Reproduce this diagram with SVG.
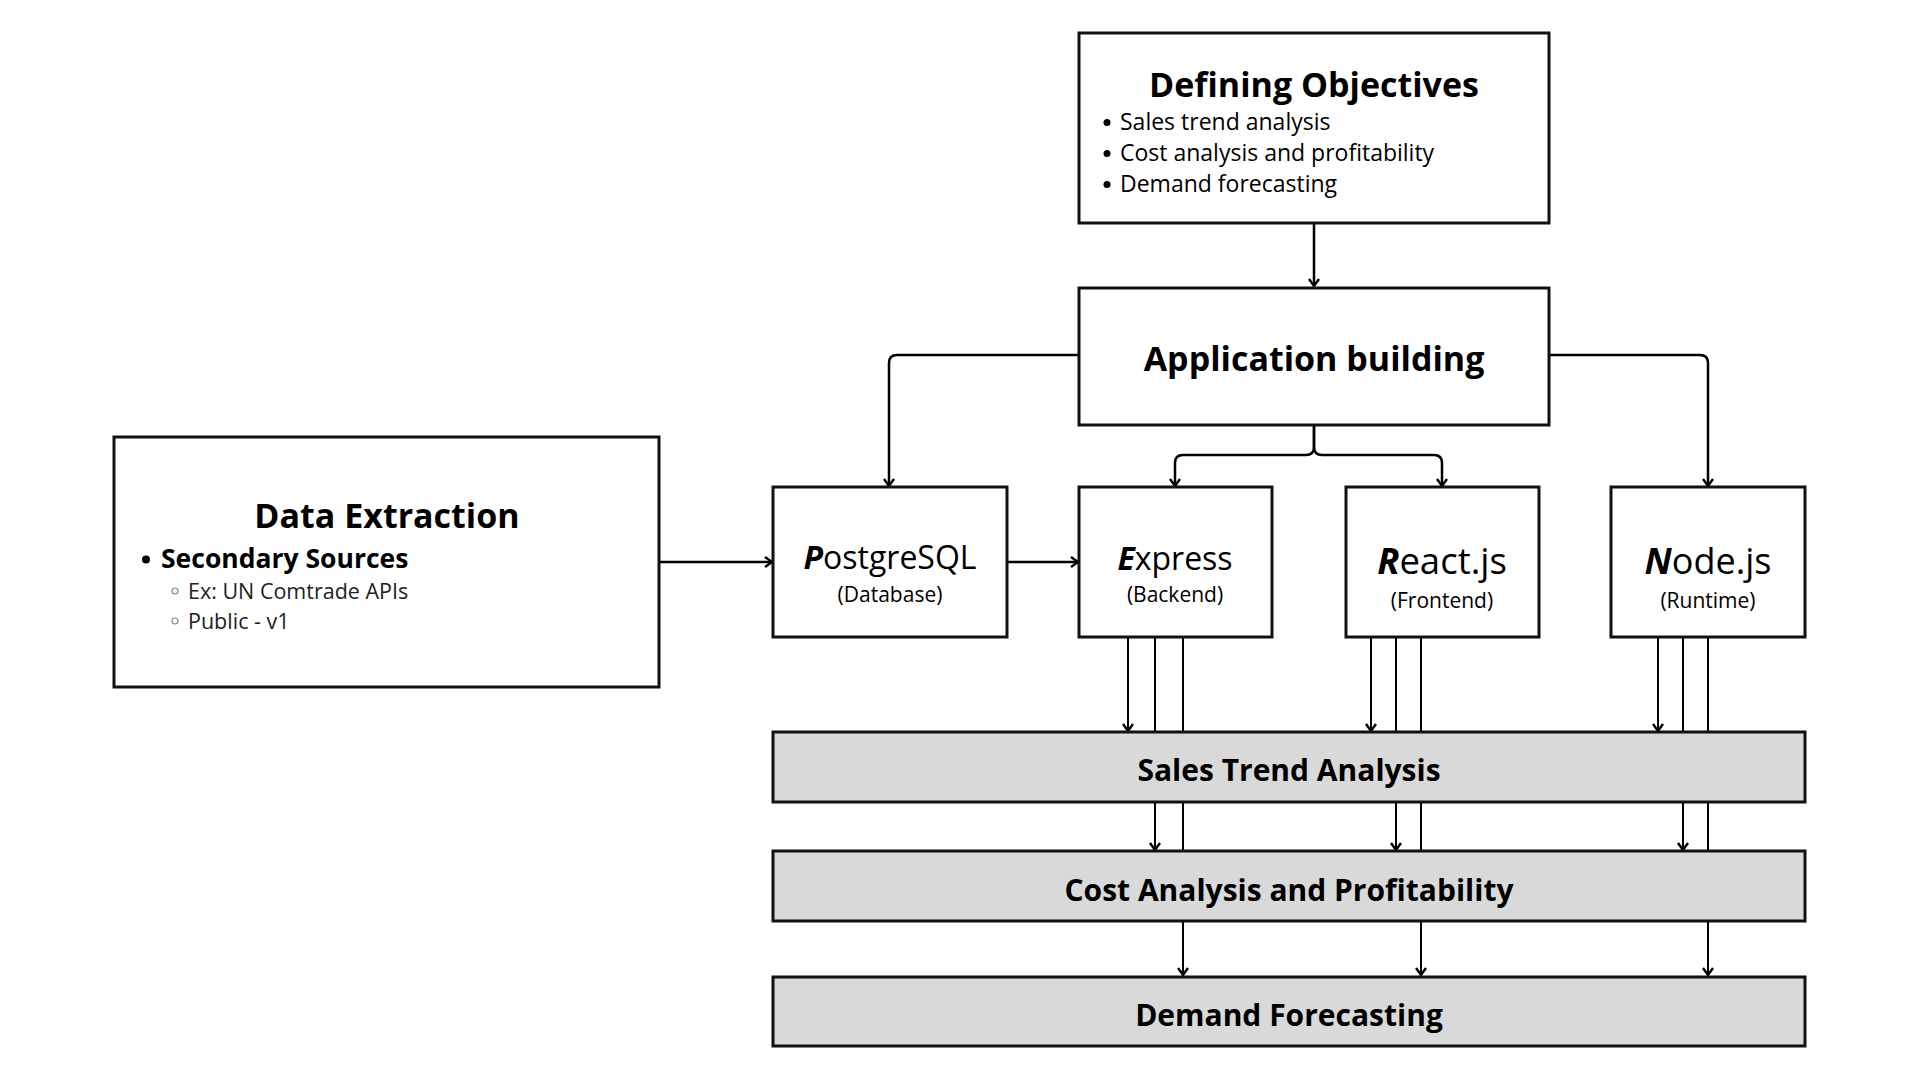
<svg xmlns="http://www.w3.org/2000/svg" width="1920" height="1080" viewBox="0 0 1920 1080">
<style>
.box{fill:#fff;stroke:#111;stroke-width:3}
.bar{fill:#d9d9d9;stroke:#111;stroke-width:3}
.t{font-family:"Open Sans","Liberation Sans",sans-serif;fill:#000}
.h{font-weight:700}
.c{text-anchor:middle}
.ln{fill:none;stroke:#000;stroke-width:2.5}
.ln2{fill:none;stroke:#000;stroke-width:2}
.sub{fill:#222}
</style>
<defs>
<marker id="arr" markerWidth="14" markerHeight="14" refX="11" refY="7" orient="auto" markerUnits="userSpaceOnUse">
<path d="M4,2 L11,7 L4,12" fill="none" stroke="#000" stroke-width="2.4"/>
</marker>
</defs>
<rect width="1920" height="1080" fill="#fff"/>

<g id="connectors">
<path class="ln" d="M1314,223 V286" marker-end="url(#arr)"/>
<path class="ln" d="M1079,355 H897 Q889,355 889,363 V486" marker-end="url(#arr)"/>
<path class="ln" d="M1549,355 H1700 Q1708,355 1708,363 V486" marker-end="url(#arr)"/>
<path class="ln" d="M1314,425 V447 Q1314,455 1306,455 H1183 Q1175,455 1175,463 V486" marker-end="url(#arr)"/>
<path class="ln" d="M1314,425 V447 Q1314,455 1322,455 H1434 Q1442,455 1442,463 V486" marker-end="url(#arr)"/>
<path class="ln" d="M659,562 H772" marker-end="url(#arr)"/>
<path class="ln" d="M1007,562 H1078" marker-end="url(#arr)"/>
<path class="ln2" d="M1128,637 V731" marker-end="url(#arr)"/>
<path class="ln2" d="M1155,637 V850" marker-end="url(#arr)"/>
<path class="ln2" d="M1183,637 V975" marker-end="url(#arr)"/>
<path class="ln2" d="M1371,637 V731" marker-end="url(#arr)"/>
<path class="ln2" d="M1396,637 V850" marker-end="url(#arr)"/>
<path class="ln2" d="M1421,637 V975" marker-end="url(#arr)"/>
<path class="ln2" d="M1658,637 V731" marker-end="url(#arr)"/>
<path class="ln2" d="M1683,637 V850" marker-end="url(#arr)"/>
<path class="ln2" d="M1708,637 V975" marker-end="url(#arr)"/>
</g>

<g id="defining-objectives">
<rect class="box" x="1079" y="33" width="470" height="190"/>
<text class="t h c" x="1314" y="97" font-size="34">Defining Objectives</text>
<circle cx="1107" cy="122.5" r="3.5"/>
<circle cx="1107" cy="153.5" r="3.5"/>
<circle cx="1107" cy="184.5" r="3.5"/>
<text class="t" x="1120" y="130" font-size="23">Sales trend analysis</text>
<text class="t" x="1120" y="161" font-size="23">Cost analysis and profitability</text>
<text class="t" x="1120" y="192" font-size="23">Demand forecasting</text>
</g>

<g id="application-building">
<rect class="box" x="1079" y="288" width="470" height="137"/>
<text class="t h c" x="1314" y="370.5" font-size="34">Application building</text>
</g>

<g id="data-extraction">
<rect class="box" x="114" y="437" width="545" height="250"/>
<text class="t h c" x="387" y="528" font-size="34">Data Extraction</text>
<circle cx="146" cy="559.5" r="4"/>
<text class="t h" x="161" y="567.5" font-size="26.5">Secondary Sources</text>
<circle cx="175" cy="591" r="3" fill="none" stroke="#888" stroke-width="1.2"/>
<circle cx="175" cy="621" r="3" fill="none" stroke="#888" stroke-width="1.2"/>
<text class="t sub" x="188" y="598.5" font-size="21.5">Ex: UN Comtrade APIs</text>
<text class="t sub" x="188" y="628.5" font-size="21.5">Public - v1</text>
</g>

<g id="postgresql">
<rect class="box" x="773" y="487" width="234" height="150"/>
<text class="t c" x="890" y="568.5" font-size="32"><tspan font-weight="700" font-style="italic">P</tspan>ostgreSQL</text>
<text class="t c" x="890" y="601.5" font-size="21">(Database)</text>
</g>

<g id="express">
<rect class="box" x="1079" y="487" width="193" height="150"/>
<text class="t c" x="1175" y="569.5" font-size="32"><tspan font-weight="700" font-style="italic">E</tspan>xpress</text>
<text class="t c" x="1175" y="601.5" font-size="21">(Backend)</text>
</g>

<g id="reactjs">
<rect class="box" x="1346" y="487" width="193" height="150"/>
<text class="t c" x="1442" y="574" font-size="36.5"><tspan font-weight="700" font-style="italic">R</tspan>eact.js</text>
<text class="t c" x="1442" y="607.5" font-size="21">(Frontend)</text>
</g>

<g id="nodejs">
<rect class="box" x="1611" y="487" width="194" height="150"/>
<text class="t c" x="1708" y="574" font-size="36"><tspan font-weight="700" font-style="italic">N</tspan>ode.js</text>
<text class="t c" x="1708" y="607.5" font-size="21">(Runtime)</text>
</g>

<g id="sales-trend-analysis">
<rect class="bar" x="773" y="732" width="1032" height="70"/>
<text class="t h c" x="1289" y="780.5" font-size="30">Sales Trend Analysis</text>
</g>

<g id="cost-analysis">
<rect class="bar" x="773" y="851" width="1032" height="70"/>
<text class="t h c" x="1289" y="900.5" font-size="30">Cost Analysis and Profitability</text>
</g>

<g id="demand-forecasting">
<rect class="bar" x="773" y="977" width="1032" height="69"/>
<text class="t h c" x="1289" y="1025.5" font-size="30">Demand Forecasting</text>
</g>
</svg>
